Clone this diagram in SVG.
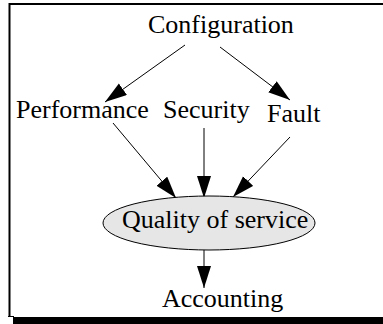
<svg xmlns="http://www.w3.org/2000/svg" width="383" height="324" viewBox="0 0 383 324">
<style>
text{font-family:"Liberation Serif","Times New Roman",serif;font-size:26px;fill:#000}
.e{stroke:#000;stroke-width:1;fill:none}
</style>
<defs>
<marker id="ah" markerUnits="userSpaceOnUse" markerWidth="24" markerHeight="16" refX="22" refY="7" orient="auto">
<path d="M0,0 L22,7 L0,14 Z" fill="#000"/>
</marker>
</defs>
<rect width="383" height="324" fill="#fff"/>
<g id="frame">
<path d="M9.5,317 V4 H383" fill="none" stroke="#000" stroke-width="2"/>
<line x1="8" y1="316.5" x2="14" y2="316.5" stroke="#000" stroke-width="1"/>
<rect x="13" y="317" width="370" height="7" fill="#000"/>
</g>
<g id="connectors">
<line class="e" x1="185" y1="45" x2="105" y2="102" marker-end="url(#ah)"/>
<line class="e" x1="220" y1="47" x2="290" y2="100" marker-end="url(#ah)"/>
<line class="e" x1="113" y1="123" x2="176" y2="198" marker-end="url(#ah)"/>
<line class="e" x1="204" y1="128" x2="204" y2="198" marker-end="url(#ah)"/>
<line class="e" x1="290" y1="137" x2="233" y2="197" marker-end="url(#ah)"/>
<line class="e" x1="204" y1="250" x2="204" y2="288" marker-end="url(#ah)"/>
</g>
<g id="configuration"><text x="148" y="33">Configuration</text></g>
<g id="performance"><text x="16" y="118">Performance</text></g>
<g id="security"><text x="163" y="118">Security</text></g>
<g id="fault"><text x="267" y="122">Fault</text></g>
<g id="qos">
<ellipse cx="209" cy="223" rx="106" ry="27" fill="#e6e6e6" stroke="#000" stroke-width="1"/>
<text x="122" y="228">Quality of service</text>
</g>
<g id="accounting"><text x="162" y="307">Accounting</text></g>
</svg>
